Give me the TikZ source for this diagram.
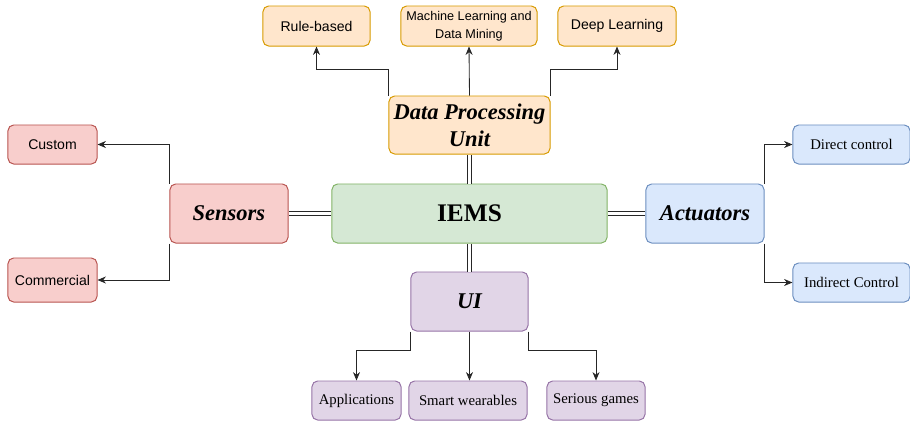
\documentclass[tikz,border=0pt]{standalone}
\usepackage{fontspec}
\setmainfont{Liberation Serif}
\setsansfont{Liberation Sans}
\usetikzlibrary{arrows.meta}

\definecolor{grnfill}{HTML}{D5E8D4}
\definecolor{grnline}{HTML}{82B366}
\definecolor{orgfill}{HTML}{FFE6CC}
\definecolor{orgline}{HTML}{D79B00}
\definecolor{redfill}{HTML}{F8CECC}
\definecolor{redline}{HTML}{B85450}
\definecolor{blufill}{HTML}{DAE8FC}
\definecolor{bluline}{HTML}{6C8EBF}
\definecolor{purfill}{HTML}{E1D5E7}
\definecolor{purline}{HTML}{9673A6}

\tikzset{
	box/.style={draw, rounded corners=4pt, line width=0.7pt, align=center, inner sep=1pt},
	mainbox/.style={box, minimum height=1.475cm, font=\fontsize{16}{19}\selectfont\bfseries\itshape},
	subbox/.style={box, minimum height=0.975cm, font=\fontsize{10.5}{13}\selectfont},
	sansbox/.style={box, minimum height=1cm, font=\sffamily\fontsize{10}{12.5}\selectfont},
	green/.style={fill=grnfill, draw=grnline},
	orange/.style={fill=orgfill, draw=orgline},
	red/.style={fill=redfill, draw=redline},
	blue/.style={fill=blufill, draw=bluline},
	purple/.style={fill=purfill, draw=purline},
	arrowline/.style={draw=black!85, line width=0.6pt, -{Stealth[length=6pt,width=5pt]}},
	link/.style={draw=black!85, double=white, double distance=2pt, line width=0.5pt},
}

\begin{document}
\begin{tikzpicture}[x=0.025cm, y=-0.025cm]
	\useasboundingbox (0,0) rectangle (910,422);

	% centre
	\node[box, green, minimum width=6.875cm, minimum height=1.475cm, font=\fontsize{18}{21}\selectfont\bfseries] (iems) at (469.5,213.5) {IEMS};

	% data processing unit
	\node[mainbox, orange, minimum width=4.025cm, minimum height=1.45cm] (dpu) at (469.5,125) {Data Processing\\Unit};
	\node[sansbox, orange, minimum width=2.675cm] (rule) at (316.5,26) {Rule-based};
	\node[sansbox, orange, minimum width=3.4cm, font=\sffamily\fontsize{9}{12.5}\selectfont] (mldm) at (469,26) {Machine Learning and\\Data Mining};
	\node[sansbox, orange, minimum width=2.95cm] (deep) at (617,26) {Deep Learning};

	% sensors
	\node[mainbox, red, minimum width=2.95cm] (sensors) at (229,213.5) {Sensors};
	\node[sansbox, red, minimum width=2.225cm, minimum height=0.975cm] (custom) at (52.5,144.5) {Custom};
	\node[sansbox, red, minimum width=2.225cm, minimum height=1.1cm] (commercial) at (52.5,280) {Commercial};

	% actuators
	\node[mainbox, blue, minimum width=2.95cm] (actuators) at (705,213.5) {Actuators};
	\node[subbox, blue, minimum width=2.925cm] (direct) at (851.5,144.5) {Direct control};
	\node[subbox, blue, minimum width=2.925cm] (indirect) at (851.5,282.5) {Indirect Control};

	% user interface
	\node[mainbox, purple, minimum width=2.925cm] (ui) at (469.5,301.5) {UI};
	\node[subbox, purple, minimum width=2.225cm] (apps) at (356.5,400.5) {Applications};
	\node[subbox, purple, minimum width=2.95cm] (wear) at (468,400.5) {Smart wearables};
	\node[subbox, purple, minimum width=2.45cm] (games) at (596,400.5) {Serious games};

	% links to the centre
	\draw[link] (iems) -- (sensors);
	\draw[link] (iems) -- (actuators);
	\draw[link] (iems) -- (dpu);
	\draw[link] (iems) -- (ui);

	% branches
	\draw[arrowline] (dpu.north west) -- ++(0,-26) -| (rule.south);
	\draw[arrowline] (dpu.north) -- (mldm.south);
	\draw[arrowline] (dpu.north east) -- ++(0,-26) -| (deep.south);
	\draw[arrowline] (sensors.north west) |- (custom.east);
	\draw[arrowline] (sensors.south west) |- (commercial.east);
	\draw[arrowline] (actuators.north east) |- (direct.west);
	\draw[arrowline] (actuators.south east) |- (indirect.west);
	\draw[arrowline] (ui.south west) -- ++(0,19) -| (apps.north);
	\draw[arrowline] (ui.south) -- (ui.south |- wear.north);
	\draw[arrowline] (ui.south east) -- ++(0,19) -| (games.north);
\end{tikzpicture}
\end{document}
